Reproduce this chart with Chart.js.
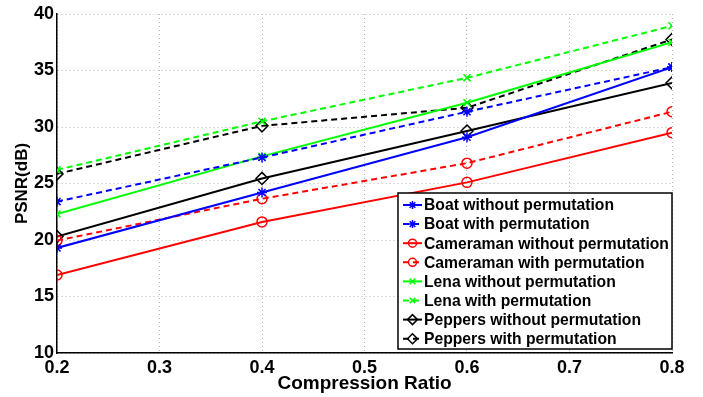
<!DOCTYPE html>
<html>
<head>
<meta charset="utf-8">
<script src="https://cdn.jsdelivr.net/npm/chart.js@4/dist/chart.umd.min.js"></script>
<style>
  html, body { margin: 0; padding: 0; background: #fff; }
  #wrap { width: 703px; height: 397px; }
</style>
</head>
<body>
<div id="wrap"><canvas id="myChart" width="703" height="397"></canvas></div>
<script>
// data
const ratios = [0.2, 0.4, 0.6, 0.8];
const boatWithout = [19.3, 24.2, 29.1, 35.3];
const boatWith = [23.4, 27.3, 31.35, 35.3];
const cameraWithout = [16.9, 21.6, 25.1, 29.5];
const cameraWith = [19.95, 23.65, 26.8, 31.35];
const lenaWithout = [22.3, 27.4, 32.15, 37.5];
const lenaWith = [26.2, 30.5, 34.35, 38.95];
const peppersWithout = [20.3, 25.45, 29.65, 33.9];
const peppersWith = [25.85, 30.1, 31.7, 37.75];
const seriesNames = [
    'Boat without permutation', 'Boat with permutation',
    'Cameraman without permutation', 'Cameraman with permutation',
    'Lena without permutation', 'Lena with permutation',
    'Peppers without permutation', 'Peppers with permutation'
];
const yTicks = [10, 15, 20, 25, 30, 35, 40];
const xTicks = [0.2, 0.3, 0.4, 0.5, 0.6, 0.7, 0.8];

const allValues = [boatWithout, boatWith, cameraWithout, cameraWith, lenaWithout, lenaWith, peppersWithout, peppersWith];
const colors = ['#0000ff', '#0000ff', '#ff0000', '#ff0000', '#00ff00', '#00ff00', '#000000', '#000000'];
const markers = ['star', 'star', 'circle', 'circle', 'crossRot', 'crossRot', 'rectRot', 'rectRot'];
const dashed = [false, true, false, true, false, true, false, true];
const FONT = '"Liberation Sans", Arial, Helvetica, sans-serif';

const datasets = allValues.map((vals, i) => ({
    label: seriesNames[i],
    data: vals.map((v, j) => ({ x: ratios[j], y: v })),
    borderColor: colors[i],
    backgroundColor: 'rgba(0,0,0,0)',
    borderWidth: 2,
    borderDash: dashed[i] ? [6, 4] : [],
    pointStyle: markers[i],
    pointRadius: markers[i] === 'rectRot' ? 6 : 5,
    pointBorderWidth: 1.5,
    pointBorderColor: colors[i],
    pointBackgroundColor: markers[i] === 'star' ? colors[i] : 'rgba(0,0,0,0)',
    tension: 0
}));

// legend box drawn inside the plot, MATLAB style
const boxLegend = {
    id: 'boxLegend',
    afterDraw(chart) {
        const ctx = chart.ctx;
        const left = 398, top = 193, right = 672, bottom = 349;
        const rowH = 19.1;
        ctx.save();
        ctx.fillStyle = '#fff';
        ctx.fillRect(left, top, right - left, bottom - top);
        ctx.strokeStyle = '#000';
        ctx.lineWidth = 1.5;
        ctx.strokeRect(left, top, right - left, bottom - top);
        chart.data.datasets.forEach((ds, i) => {
            const y = 205 + i * rowH;
            ctx.strokeStyle = ds.borderColor;
            ctx.lineWidth = 2;
            ctx.setLineDash(ds.borderDash);
            ctx.beginPath();
            ctx.moveTo(403, y);
            ctx.lineTo(422, y);
            ctx.stroke();
            ctx.setLineDash([]);
            ctx.fillStyle = ds.pointBackgroundColor;
            ctx.lineWidth = 1.5;
            Chart.helpers.drawPoint(ctx, {
                pointStyle: ds.pointStyle,
                radius: ds.pointStyle === 'rectRot' ? 5 : 4,
                borderWidth: 1.5,
                rotation: 0
            }, 412.5, y);
            ctx.fillStyle = '#000';
            ctx.font = 'bold 15.7px ' + FONT;
            ctx.textBaseline = 'middle';
            ctx.fillText(ds.label, 424, y + 1);
        });
        ctx.restore();
    }
};

const chartCanvas = document.getElementById('myChart');
const myChart = new Chart(chartCanvas, {
    type: 'line',
    data: { datasets: datasets },
    options: {
        responsive: false,
        animation: false,
        layout: { padding: { left: 0, right: 31, top: 14, bottom: 0 } },
        plugins: { legend: { display: false }, tooltip: { enabled: false } },
        scales: {
            x: {
                type: 'linear',
                min: 0.2,
                max: 0.8,
                afterFit: (scale) => { scale.height = 44; },
                afterBuildTicks: (scale) => { scale.ticks = xTicks.map(v => ({ value: v })); },
                ticks: {
                    color: '#000',
                    padding: 4,
                    font: { family: FONT, size: 18, weight: 'bold' },
                    callback: (v) => v.toFixed(1)
                },
                grid: { color: '#b4b4b4', lineWidth: 1, drawTicks: false },
                border: { display: true, color: '#000', width: 1.5, dash: [1, 3] },
                title: {
                    display: true,
                    text: 'Compression Ratio',
                    color: '#000',
                    padding: { top: 0, bottom: 2 },
                    font: { family: FONT, size: 19, weight: 'bold' }
                }
            },
            y: {
                min: 10,
                max: 40,
                afterFit: (scale) => { scale.width = 57; },
                afterBuildTicks: (scale) => { scale.ticks = yTicks.map(v => ({ value: v })); },
                ticks: {
                    color: '#000',
                    padding: 3,
                    font: { family: FONT, size: 18, weight: 'bold' }
                },
                grid: { color: '#b4b4b4', lineWidth: 1, drawTicks: false },
                border: { display: true, color: '#000', width: 1.5, dash: [1, 3] },
                title: {
                    display: true,
                    text: 'PSNR(dB)',
                    color: '#000',
                    padding: { top: 12, bottom: 0 },
                    font: { family: FONT, size: 17, weight: 'bold' }
                }
            }
        }
    },
    plugins: [boxLegend]
});
</script>
</body>
</html>
